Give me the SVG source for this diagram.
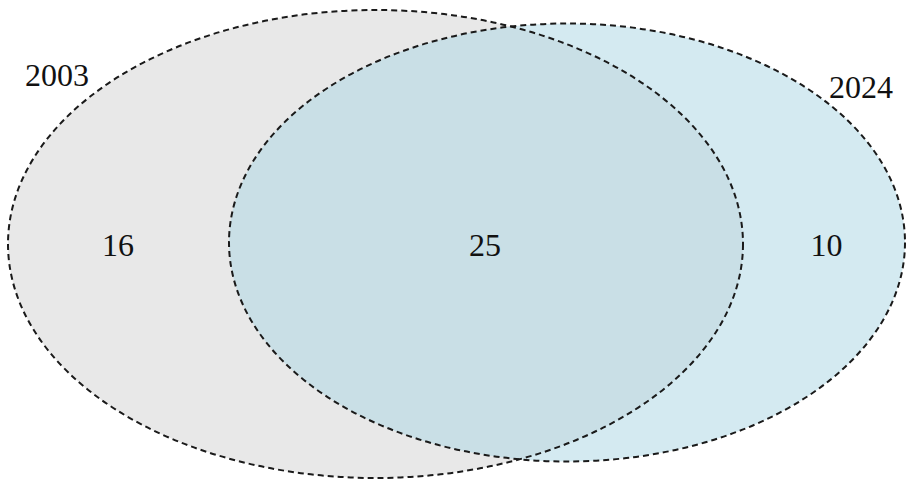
<svg xmlns="http://www.w3.org/2000/svg" width="907" height="483" viewBox="0 0 907 483">
  <style>
    .lbl { font-family: "Liberation Serif", "Times New Roman", serif; font-size: 32px; fill: #111; }
    .num { text-anchor: middle; }
    .outline { fill: none; stroke: #1a1a1a; stroke-width: 2; stroke-dasharray: 6 4; }
  </style>
  <rect width="907" height="483" fill="#ffffff"/>
  <g id="set-2003">
    <ellipse cx="375.5" cy="244" rx="367.5" ry="234" fill="#e8e8e8"/>
    <text class="lbl" x="25" y="86">2003</text>
    <text class="lbl num" x="118" y="256">16</text>
  </g>
  <g id="set-2024">
    <ellipse cx="567" cy="242.5" rx="338" ry="219" fill="#acd7e4" fill-opacity="0.52"/>
    <text class="lbl" x="829" y="98">2024</text>
    <text class="lbl num" x="826.5" y="256">10</text>
  </g>
  <g id="intersection">
    <text class="lbl num" x="485" y="256">25</text>
  </g>
  <g id="outlines">
    <ellipse class="outline" cx="375.5" cy="244" rx="367.5" ry="234"/>
    <ellipse class="outline" cx="567" cy="242.5" rx="338" ry="219"/>
  </g>
</svg>
